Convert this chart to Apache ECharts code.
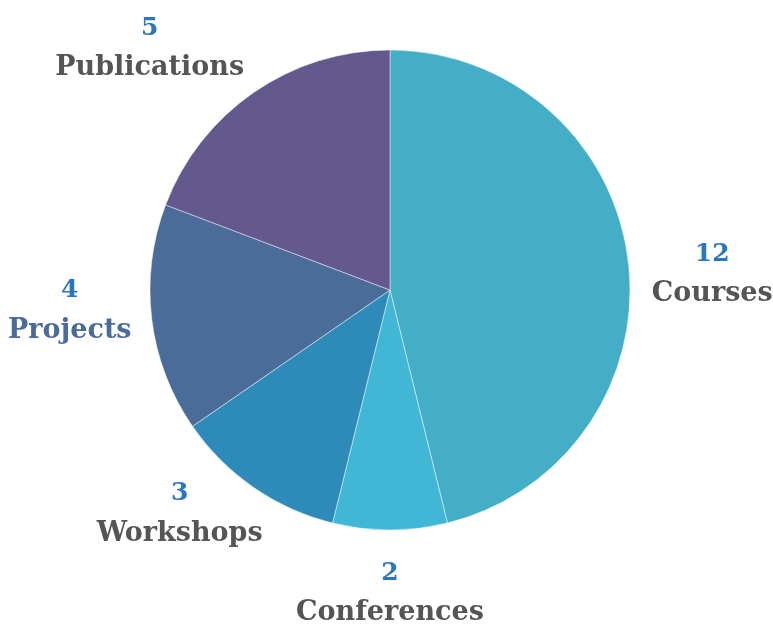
<!DOCTYPE html>
<html>
<head>
<meta charset="utf-8">
<script src="https://cdn.jsdelivr.net/npm/echarts@6/dist/echarts.min.js"></script>
<style>
  html, body { margin: 0; padding: 0; background: #ffffff; }
  #chart { width: 773px; height: 624px; }
</style>
</head>
<body>
<div id="chart"></div>
<script>
// data
var names = ['Courses', 'Conferences', 'Workshops', 'Projects', 'Publications'];
var values = [12, 2, 3, 4, 5];
var colors = ['#45aec7', '#41b7d6', '#2e8ab9', '#4b6c99', '#63598f'];

var CX = 390, CY = 290, R = 240;
// label centre offset from the middle of each slice's outer edge
var labelOffsets = [[84, 13], [0, 63], [-74, 26], [-82, -8], [-104, -44]];

// direction of each slice middle (clockwise from 12 o'clock)
var total = values.reduce(function (a, b) { return a + b; }, 0);
var acc = 0;
var dirs = values.map(function (v) {
    var mid = (acc + v / 2) / total * 2 * Math.PI;
    acc += v;
    return [Math.sin(mid), -Math.cos(mid)];
});

var chart = echarts.init(document.getElementById('chart'));

var option = {
    animation: false,
    series: [{
        type: 'pie',
        center: [CX, CY],
        radius: R,
        startAngle: 90,
        clockwise: true,
        avoidLabelOverlap: false,
        itemStyle: { borderColor: 'rgba(255,255,255,0.45)', borderWidth: 1 },
        emphasis: { scale: false },
        labelLine: { show: false },
        label: {
            show: true,
            position: 'outside',
            formatter: '{n|{c}}\n{l|{b}}',
            rich: {
                n: { fontFamily: 'DejaVu Serif', fontWeight: 'bold', fontSize: 25, color: '#2a76c1', lineHeight: 40, align: 'center' },
                l: { fontFamily: 'DejaVu Serif', fontWeight: 'bold', fontSize: 27, color: '#555555', lineHeight: 40, align: 'center' },
                p: { fontFamily: 'DejaVu Serif', fontWeight: 'bold', fontSize: 27, color: '#4b6c99', lineHeight: 40, align: 'center' }
            }
        },
        labelLayout: function (p) {
            var d = dirs[p.dataIndex];
            var o = labelOffsets[p.dataIndex];
            return {
                x: CX + d[0] * R + o[0],
                y: CY + d[1] * R + o[1],
                align: 'center',
                verticalAlign: 'middle'
            };
        },
        data: names.map(function (n, i) {
            var item = { name: n, value: values[i], itemStyle: { color: colors[i] } };
            if (n === 'Projects') item.label = { formatter: '{n|{c}}\n{p|{b}}' };
            return item;
        })
    }]
};

chart.setOption(option);
</script>
</body>
</html>
